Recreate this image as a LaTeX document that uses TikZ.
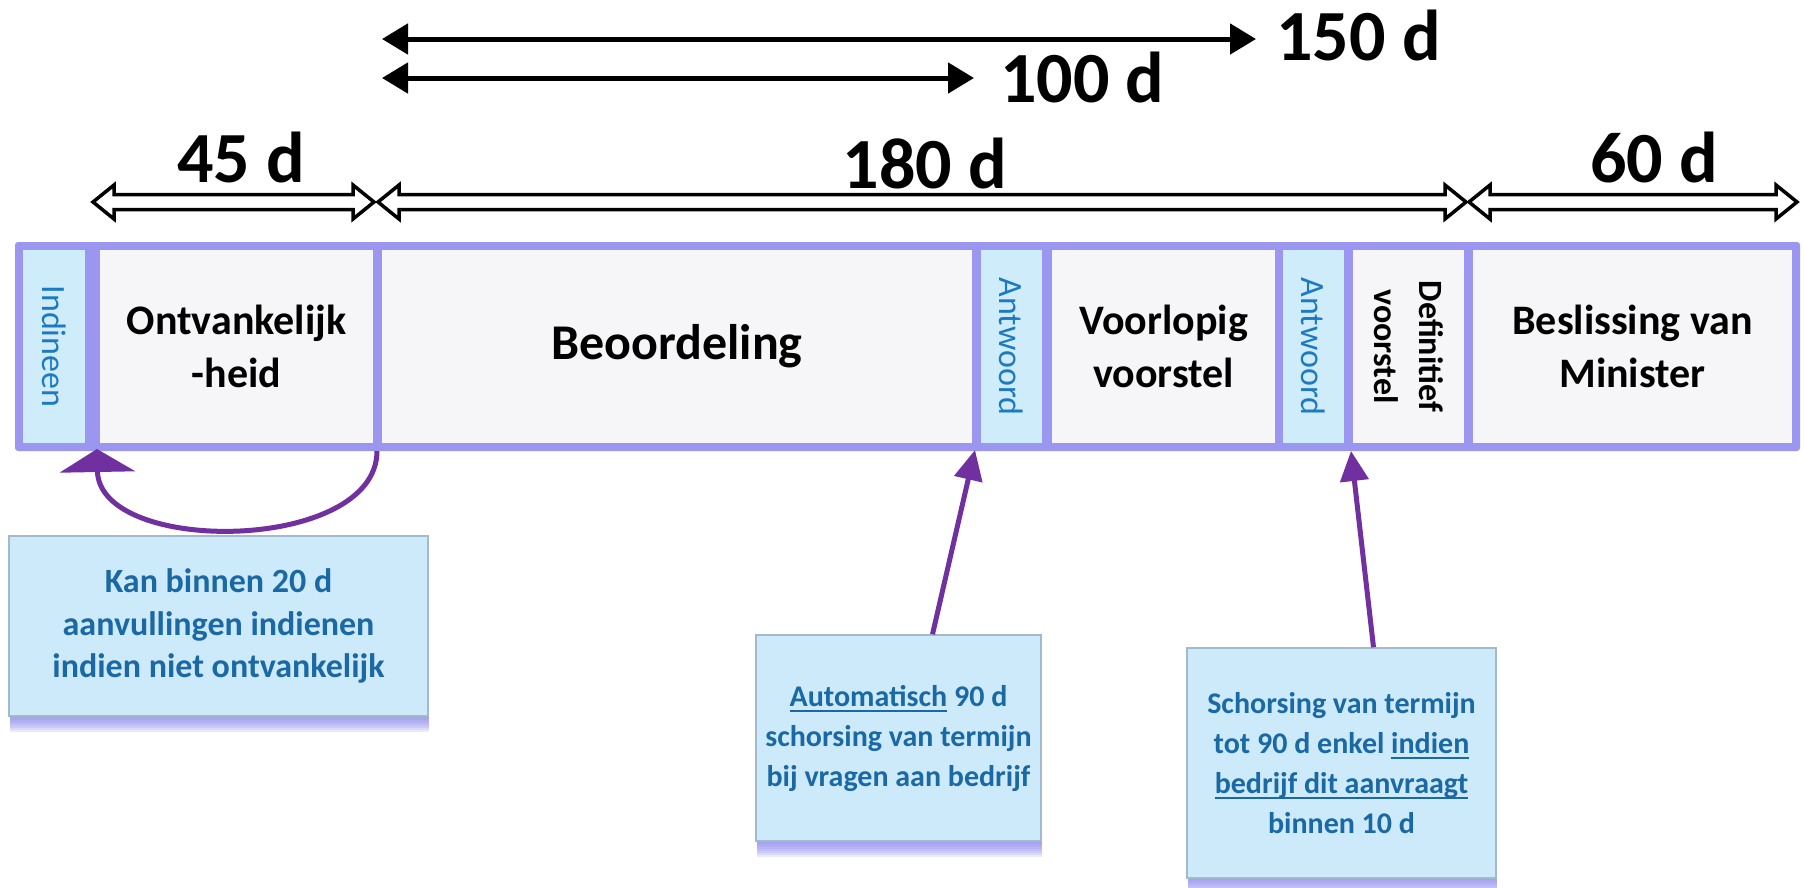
\documentclass[tikz,border=0pt]{standalone}
\usepackage{fontspec}
\setmainfont{Carlito}
\newsavebox\undlbox
\newcommand\undl[1]{\leavevmode\sbox\undlbox{#1}\rlap{\rule[-6pt]{\wd\undlbox}{2.2pt}}\usebox\undlbox}
\usetikzlibrary{arrows.meta,shadows}
\definecolor{lav}{RGB}{155,150,240}
\definecolor{boxfill}{RGB}{246,246,248}
\definecolor{lblue}{RGB}{207,236,251}
\definecolor{cfill}{RGB}{205,234,251}
\definecolor{vtext}{RGB}{30,122,192}
\definecolor{ctext}{RGB}{26,104,164}
\definecolor{purp}{RGB}{112,48,160}
\definecolor{cborder}{RGB}{165,185,205}
\definecolor{shad}{RGB}{140,136,240}
\newcommand\hollowdim[3]{% x1, x2, y
  \draw[hollowst] (#1,#3) -- (#1+21,#3-17) -- (#1+21,#3-7.5) -- (#2-21,#3-7.5) -- (#2-21,#3-17)
    -- (#2,#3) -- (#2-21,#3+17) -- (#2-21,#3+7.5) -- (#1+21,#3+7.5) -- (#1+21,#3+17) -- cycle;}
\begin{document}
\begin{tikzpicture}[x=1pt,y=-1pt,
  seg/.style={fill=boxfill, inner sep=0pt, minimum height=193pt, align=center,
    font=\bfseries\fontsize{42}{53}\selectfont},
  vseg/.style={fill=lblue, inner sep=0pt, rotate=-90, minimum width=193pt, minimum height=#1,
    text=vtext, align=center, font=\fontsize{34}{40}\selectfont},
  sh/.style={general shadow={fill=shad, draw=none, opacity=.17, shadow xshift=1pt, shadow yshift=-#1pt}},
  callout/.style={fill=cfill, draw=cborder, line width=1.5pt, inner sep=0pt, align=center,
    text=ctext, font=\bfseries\fontsize{30}{40}\selectfont,
    sh=16, sh=14, sh=12, sh=10, sh=8, sh=6, sh=4, sh=2},
  hollowst/.style={draw=black, fill=white, line width=3.5pt, line join=miter},
  solidarr/.style={draw=black, line width=5pt,
    {Triangle[length=26pt,width=30pt]}-{Triangle[length=26pt,width=30pt]}},
  dimlab/.style={inner sep=0pt, font=\bfseries\fontsize{72}{80}\selectfont},
  parr/.style={draw=purp, line width=5pt, -{Triangle[length=30pt,width=28pt]}},
  carr/.style={draw=purp, line width=5pt, -{Triangle[length=23pt,width=75pt]}},
]
\useasboundingbox (0,0) rectangle (1804,887);
\fill[white] (0,0) rectangle (1804,887);

% main bar
\node[fill=lav, rounded corners=3pt, minimum width=1785pt, minimum height=209pt, inner sep=0pt] (bar) at (907.5,346.5) {};
\node[vseg=62pt] (ind) at (54,346.5) {Indineen};
\node[seg, minimum width=273pt] (ont) at (236.5,346.5) {Ontvankelijk\\-heid};
\node[seg, minimum width=590pt, font=\bfseries\fontsize{50}{60}\selectfont] (beo) at (677,346.5) {Beoordeling};
\node[vseg=61pt] (ant1) at (1011.5,346.5) {Antwoord};
\node[seg, minimum width=223pt] (voo) at (1163.5,346.5) {Voorlopig\\voorstel};
\node[vseg=61pt] (ant2) at (1313.5,346.5) {Antwoord};
\node[vseg=111pt, fill=boxfill, text=black, font=\bfseries\fontsize{34}{45}\selectfont] (def) at (1408.5,346.5) {Definitief\\voorstel};
\node[seg, minimum width=319pt] (bes) at (1632.5,346.5) {Beslissing van\\Minister};

% dimension arrows
\hollowdim{93}{374}{202}
\hollowdim{378}{1466}{202}
\hollowdim{1469}{1797}{202}
\coordinate (s150l) at (382,39);
\coordinate (s150r) at (1256,39);
\coordinate (s100l) at (382,78);
\coordinate (s100r) at (974,78);
\draw[solidarr] (s150l) -- (s150r);
\draw[solidarr] (s100l) -- (s100r);
\node[dimlab, anchor=base] (l45) at (241,182) {45 d};
\node[dimlab, anchor=base] (l180) at (925,188) {180 d};
\node[dimlab, anchor=base] (l60) at (1654,182) {60 d};
\node[dimlab, anchor=base west] (l150) at (1276,60) {150 d};
\node[dimlab, anchor=base west] (l100) at (1000,102) {100 d};

% callouts
\node[callout, font=\bfseries\fontsize{34}{42.5}\selectfont, minimum width=419pt, minimum height=180pt] (c1) at (218.5,626)
  {Kan binnen 20 d\\aanvullingen indienen\\indien niet ontvankelijk};
\node[callout, minimum width=285pt, minimum height=206pt] (c2) at (898.5,738)
  {\undl{Automatisch} 90 d\\schorsing van termijn\\bij vragen aan bedrijf};
\node[callout, minimum width=309pt, minimum height=230pt] (c3) at (1341.5,763)
  {Schorsing van termijn\\tot 90 d enkel \undl{indien}\\\undl{bedrijf dit aanvraagt}\\binnen 10 d};

% purple connectors
\coordinate (cs) at (377,451);
\coordinate (ce) at (97,449);
\draw[carr] (cs) .. controls (377,553) and (99,556) .. (ce);
\coordinate (t2) at (975,450);
\coordinate (t3) at (1351,451);
\draw[parr] ([xshift=34pt]c2.north) -- (t2);
\draw[parr] ([xshift=32pt]c3.north) -- (t3);
\end{tikzpicture}
\end{document}
